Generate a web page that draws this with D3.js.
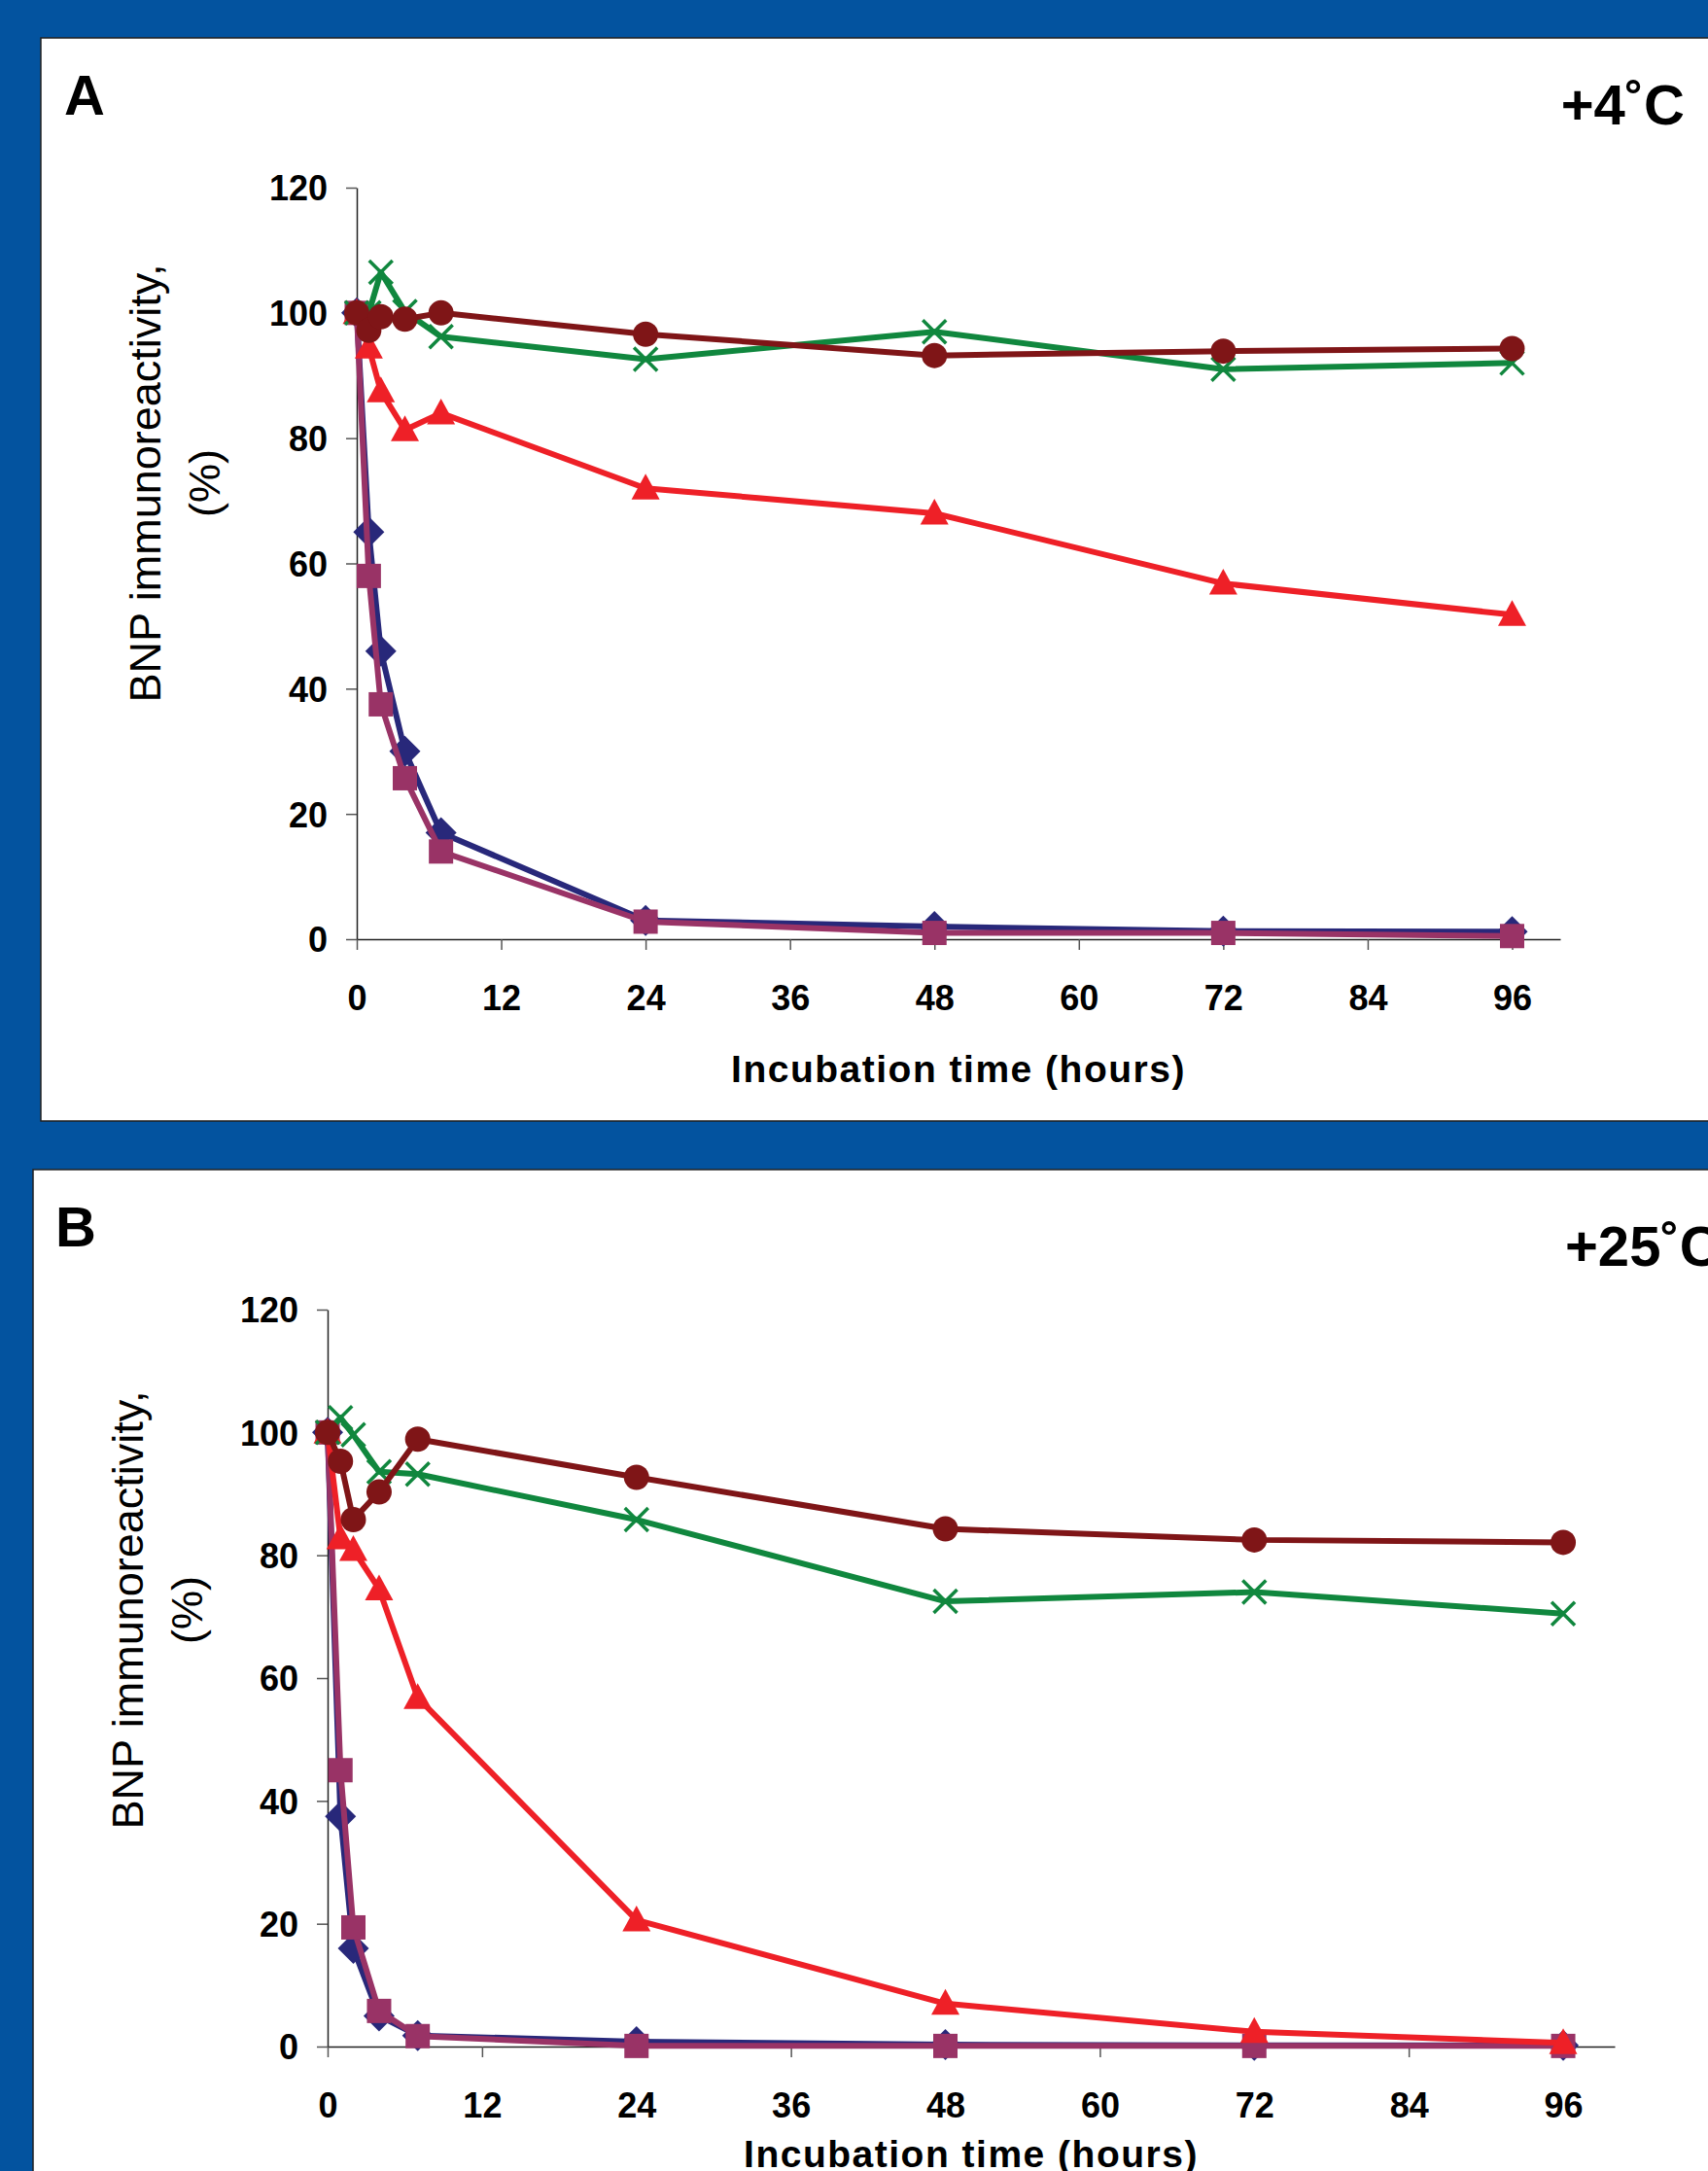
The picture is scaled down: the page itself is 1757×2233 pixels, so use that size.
<!DOCTYPE html>
<html>
<head>
<meta charset="utf-8">
<script src="https://cdn.jsdelivr.net/npm/d3@7"></script>
<style>
  html, body { margin: 0; padding: 0; background: #03539f; }
  svg { display: block; }
  text { font-family: "Liberation Sans", Arial, sans-serif; }
</style>
</head>
<body>
<svg id="chart" width="1757" height="2233"></svg>
<script>
// sampling times (hours)
var hours = [0, 1, 2, 4, 7, 24, 48, 72, 96];
var xTicks = [0, 12, 24, 36, 48, 60, 72, 84, 96];
var yTicks = [0, 20, 40, 60, 80, 100, 120];

var seriesShapes = ["diamond", "square", "triangle", "cross", "circle"];
var seriesColors = ["#28287a", "#993366", "#ee2027", "#10873e", "#7f1517"];

// panel A, +4 C
var a_diamond  = [100, 65, 46, 30, 17, 3, 2, 1.3, 1.2];
var a_square   = [100, 58, 37.5, 25.7, 14, 2.8, 1, 1, 0.5];
var a_triangle = [100, 94.5, 87.5, 81.3, 84, 72, 68, 56.8, 51.8];
var a_cross    = [100, 100, 106.5, 100.2, 96.2, 92.6, 97, 91, 92];
var a_circle   = [100, 97.2, 99.4, 99, 100, 96.6, 93.2, 93.9, 94.3];

// panel B, +25 C
var b_diamond  = [100, 37.5, 16, 5, 1.8, 0.8, 0.3, 0.2, 0.2];
var b_square   = [100, 45, 19.4, 5.8, 1.7, 0.1, 0.1, 0.1, 0.1];
var b_triangle = [100, 82.8, 80.9, 74.5, 56.8, 20.6, 7, 2.4, 0.6];
var b_cross    = [100, 102.4, 99.6, 93.6, 93.2, 85.8, 72.5, 74, 70.5];
var b_circle   = [100, 95.3, 85.8, 90.3, 98.9, 92.7, 84.3, 82.5, 82.1];

var svg = d3.select("#chart");

// marker paths
function marker(shape) {
	if (shape == "diamond") return "M0,-16L16,0L0,16L-16,0Z";
	if (shape == "square") return "M-12.5,-12.5H12.5V12.5H-12.5Z";
	if (shape == "triangle") return "M0,-15L14.5,11.5H-14.5Z";
	if (shape == "cross") return "M-12,-12L12,12M12,-12L-12,12";
	if (shape == "circle") return "M-13,0A13,13 0 1,0 13,0A13,13 0 1,0 -13,0Z";
}

function drawPanel(p) {
	var g = svg.append("g");

	g.append("rect")
		.attr("x", p.box[0]).attr("y", p.box[1])
		.attr("width", 1757 - p.box[0] + 20)
		.attr("height", p.box[2] - p.box[1])
		.attr("fill", "#fff")
		.attr("stroke", "#222")
		.attr("stroke-width", 1.5);

	var x = d3.scaleLinear().domain([0, 100]).range([p.x0, p.x1]);
	var y = d3.scaleLinear().domain([0, 120]).range([p.y0, p.y1]);

	// y axis
	var ya = g.append("g")
		.attr("transform", "translate(" + p.x0 + ",0)")
		.call(d3.axisLeft(y).tickValues(yTicks).tickSize(11).tickSizeOuter(0).tickPadding(19));
	// x axis
	var xa = g.append("g")
		.attr("transform", "translate(0," + p.y0 + ")")
		.call(d3.axisBottom(x).tickValues(xTicks).tickSize(11).tickSizeOuter(0).tickPadding(36));

	g.selectAll(".domain").attr("stroke", "#222").attr("stroke-width", 1.5);
	g.selectAll(".tick line").attr("stroke", "#555").attr("stroke-width", 1.5);
	g.selectAll(".tick text")
		.attr("font-family", "Liberation Sans, Arial, sans-serif")
		.attr("font-size", 36)
		.attr("font-weight", "bold")
		.attr("fill", "#000");
	ya.selectAll(".tick text").attr("dy", "0.36em");
	xa.selectAll(".tick text").attr("dy", "0.71em");

	// series
	var line = d3.line()
		.x(function(d) { return x(d[0]); })
		.y(function(d) { return y(d[1]); });

	p.series.forEach(function(vals, i) {
		var pts = hours.map(function(h, j) { return [h, vals[j]]; });
		g.append("path")
			.attr("d", line(pts))
			.attr("fill", "none")
			.attr("stroke", seriesColors[i])
			.attr("stroke-width", 6)
			.attr("stroke-linejoin", "round");
		var shape = seriesShapes[i];
		g.selectAll(".m" + i)
			.data(pts)
			.enter().append("path")
			.attr("class", "m" + i)
			.attr("transform", function(d) { return "translate(" + x(d[0]) + "," + y(d[1]) + ")"; })
			.attr("d", marker(shape))
			.attr("fill", shape == "cross" ? "none" : seriesColors[i])
			.attr("stroke", seriesColors[i])
			.attr("stroke-width", shape == "cross" ? 3.5 : 0);
	});

	// panel letter
	g.append("text")
		.attr("x", p.letterPos[0]).attr("y", p.letterPos[1])
		.attr("font-size", 58).attr("font-weight", "bold")
		.text(p.letter);

	// temperature
	g.append("text")
		.attr("x", p.tempPos[0]).attr("y", p.tempPos[1])
		.attr("text-anchor", p.tempAnchor)
		.attr("font-size", 58).attr("font-weight", "bold")
		.text(p.temp);

	// x title
	g.append("text")
		.attr("x", (p.x0 + p.x1) / 2).attr("y", p.xTitleY)
		.attr("text-anchor", "middle")
		.attr("font-size", 39).attr("font-weight", "bold")
		.attr("letter-spacing", 1.5)
		.text("Incubation time (hours)");

	// y title
	var yt = g.append("text")
		.attr("transform", "translate(" + p.yTitle[0] + "," + p.yTitle[1] + ") rotate(-90)")
		.attr("text-anchor", "middle")
		.attr("font-size", 45);
	yt.append("tspan").attr("x", 0).attr("dy", 0).text("BNP immunoreactivity,");
	yt.append("tspan").attr("x", 0).attr("dy", "1.35em").text("(%)");
}

drawPanel({
	box: [42, 39, 1153],
	x0: 367, x1: 1605, y0: 966, y1: 193,
	series: [a_diamond, a_square, a_triangle, a_cross, a_circle],
	letter: "A", letterPos: [66, 118],
	temp: "+4\u02DAC", tempPos: [1733, 128], tempAnchor: "end",
	xTitleY: 1113,
	yTitle: [165, 497]
});

drawPanel({
	box: [34, 1203, 2300],
	x0: 337, x1: 1661, y0: 2105, y1: 1347,
	series: [b_diamond, b_square, b_triangle, b_cross, b_circle],
	letter: "B", letterPos: [57, 1282],
	temp: "+25\u02DAC", tempPos: [1610, 1302], tempAnchor: "start",
	xTitleY: 2229,
	yTitle: [147, 1656]
});
</script>
</body>
</html>
